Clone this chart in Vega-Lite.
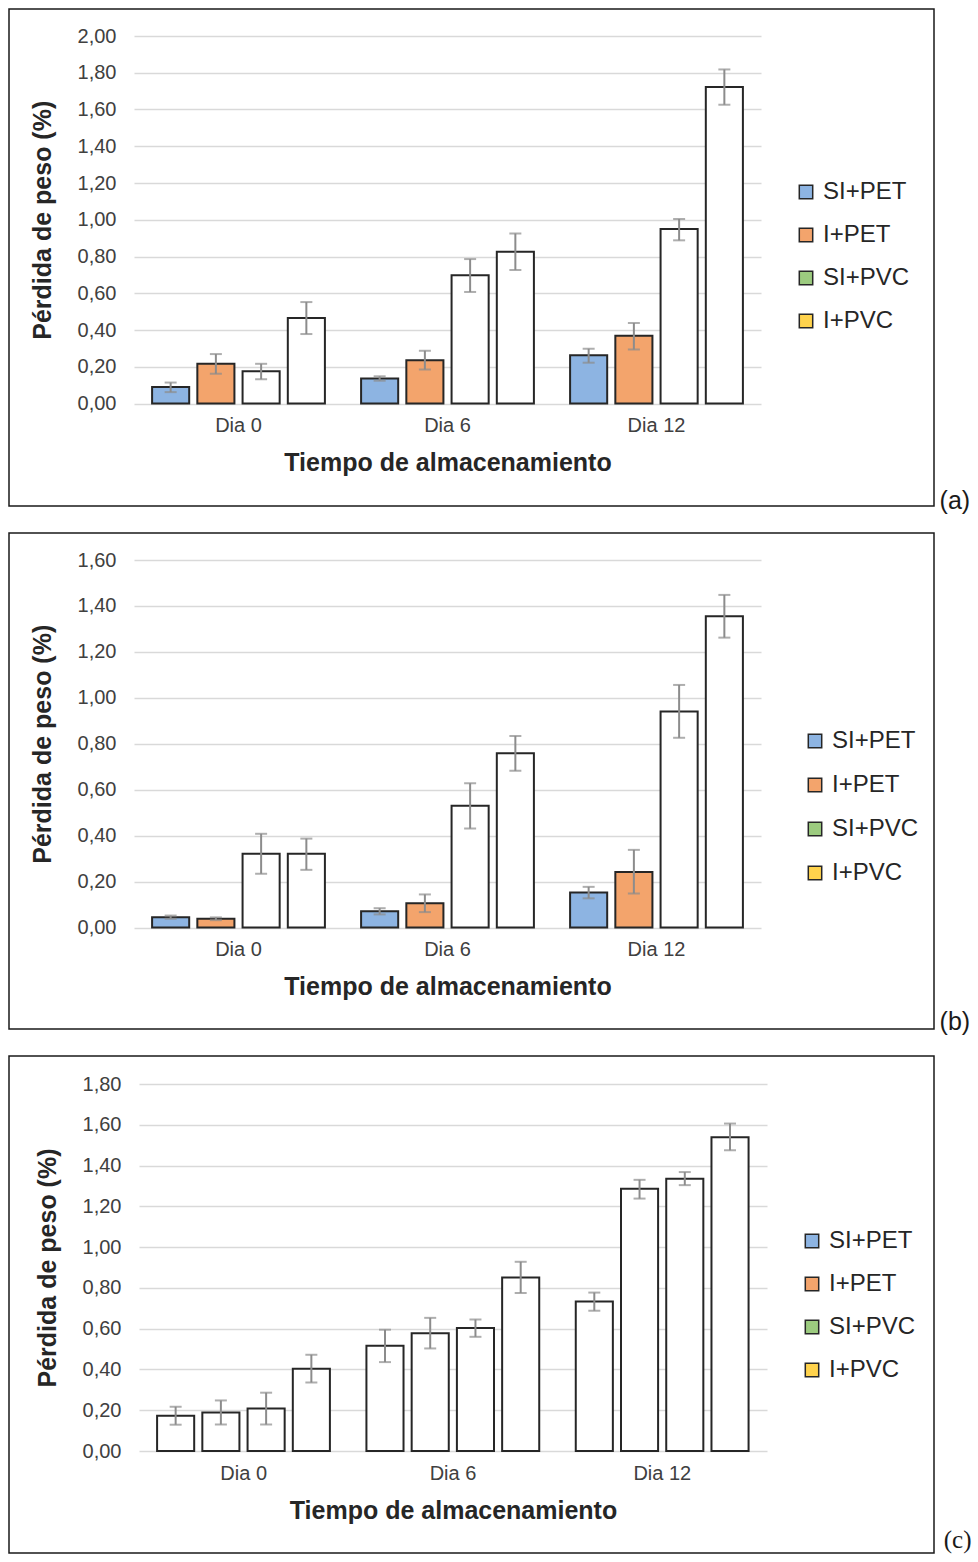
{
  "$schema": "https://vega.github.io/schema/vega-lite/v6.json",
  "background": "white",
  "padding": {"left": 8, "top": 8, "right": 0, "bottom": 0},
  "bounds": "flush",
  "spacing": 27,
  "resolve": {"scale": {"fill": "independent", "x": "independent", "y": "independent"}, "legend": {"fill": "independent"}},
  "config": {
    "font": "Liberation Sans",
    "view": {"stroke": "#1a1a1a", "strokeWidth": 1.5},
    "axis": {"labelFont": "Liberation Sans", "titleFont": "Liberation Sans", "labelColor": "#404040", "titleColor": "#262626", "labelFontSize": 20, "titleFontSize": 25, "titleFontWeight": "bold"},
    "legend": {"labelFont": "Liberation Sans", "labelFontSize": 24, "labelColor": "#262626"}
  },
  "datasets": {
    "a": [
      {"dia": "Dia 0", "grupo": "SI+PET", "valor": 0.09, "inf": 0.062, "sup": 0.114},
      {"dia": "Dia 0", "grupo": "I+PET", "valor": 0.216, "inf": 0.162, "sup": 0.269},
      {"dia": "Dia 0", "grupo": "SI+PVC", "valor": 0.176, "inf": 0.132, "sup": 0.216},
      {"dia": "Dia 0", "grupo": "I+PVC", "valor": 0.465, "inf": 0.378, "sup": 0.552},
      {"dia": "Dia 6", "grupo": "SI+PET", "valor": 0.136, "inf": 0.124, "sup": 0.148},
      {"dia": "Dia 6", "grupo": "I+PET", "valor": 0.236, "inf": 0.185, "sup": 0.287},
      {"dia": "Dia 6", "grupo": "SI+PVC", "valor": 0.698, "inf": 0.607, "sup": 0.786},
      {"dia": "Dia 6", "grupo": "I+PVC", "valor": 0.826, "inf": 0.727, "sup": 0.925},
      {"dia": "Dia 12", "grupo": "SI+PET", "valor": 0.262, "inf": 0.222, "sup": 0.298},
      {"dia": "Dia 12", "grupo": "I+PET", "valor": 0.369, "inf": 0.294, "sup": 0.438},
      {"dia": "Dia 12", "grupo": "SI+PVC", "valor": 0.95, "inf": 0.888, "sup": 1.004},
      {"dia": "Dia 12", "grupo": "I+PVC", "valor": 1.722, "inf": 1.626, "sup": 1.818}
    ],
    "b": [
      {"dia": "Dia 0", "grupo": "SI+PET", "valor": 0.045, "inf": 0.038, "sup": 0.052},
      {"dia": "Dia 0", "grupo": "I+PET", "valor": 0.038, "inf": 0.032, "sup": 0.044},
      {"dia": "Dia 0", "grupo": "SI+PVC", "valor": 0.321, "inf": 0.234, "sup": 0.408},
      {"dia": "Dia 0", "grupo": "I+PVC", "valor": 0.321, "inf": 0.251, "sup": 0.387},
      {"dia": "Dia 6", "grupo": "SI+PET", "valor": 0.071, "inf": 0.057, "sup": 0.084},
      {"dia": "Dia 6", "grupo": "I+PET", "valor": 0.106, "inf": 0.067, "sup": 0.144},
      {"dia": "Dia 6", "grupo": "SI+PVC", "valor": 0.53, "inf": 0.431, "sup": 0.628},
      {"dia": "Dia 6", "grupo": "I+PVC", "valor": 0.759, "inf": 0.682, "sup": 0.834},
      {"dia": "Dia 12", "grupo": "SI+PET", "valor": 0.152, "inf": 0.127, "sup": 0.177},
      {"dia": "Dia 12", "grupo": "I+PET", "valor": 0.242, "inf": 0.148, "sup": 0.338},
      {"dia": "Dia 12", "grupo": "SI+PVC", "valor": 0.94, "inf": 0.826, "sup": 1.056},
      {"dia": "Dia 12", "grupo": "I+PVC", "valor": 1.355, "inf": 1.262, "sup": 1.448}
    ],
    "c": [
      {"dia": "Dia 0", "grupo": "SI+PET", "valor": 0.173, "inf": 0.129, "sup": 0.217},
      {"dia": "Dia 0", "grupo": "I+PET", "valor": 0.189, "inf": 0.13, "sup": 0.248},
      {"dia": "Dia 0", "grupo": "SI+PVC", "valor": 0.209, "inf": 0.13, "sup": 0.286},
      {"dia": "Dia 0", "grupo": "I+PVC", "valor": 0.403, "inf": 0.336, "sup": 0.472},
      {"dia": "Dia 6", "grupo": "SI+PET", "valor": 0.516, "inf": 0.436, "sup": 0.595},
      {"dia": "Dia 6", "grupo": "I+PET", "valor": 0.577, "inf": 0.503, "sup": 0.653},
      {"dia": "Dia 6", "grupo": "SI+PVC", "valor": 0.603, "inf": 0.56, "sup": 0.645},
      {"dia": "Dia 6", "grupo": "I+PVC", "valor": 0.851, "inf": 0.775, "sup": 0.928},
      {"dia": "Dia 12", "grupo": "SI+PET", "valor": 0.733, "inf": 0.688, "sup": 0.777},
      {"dia": "Dia 12", "grupo": "I+PET", "valor": 1.286, "inf": 1.238, "sup": 1.33},
      {"dia": "Dia 12", "grupo": "SI+PVC", "valor": 1.335, "inf": 1.304, "sup": 1.368},
      {"dia": "Dia 12", "grupo": "I+PVC", "valor": 1.539, "inf": 1.475, "sup": 1.606}
    ]
  },
  "vconcat": [
    {
      "width": 925, "height": 497,
      "data": {"name": "a"},
      "title": {"text": "(a)", "orient": "right", "anchor": "end", "angle": 0, "frame": "group", "align": "left", "baseline": "bottom", "fontSize": 25, "fontWeight": "normal", "font": "Liberation Sans", "color": "#1a1a1a", "offset": 7, "dx": -32, "dy": 8},
      "encoding": {
        "x": {"field": "dia", "type": "nominal", "sort": ["Dia 0", "Dia 6", "Dia 12"], "scale": {"range": [125, 752], "paddingInner": 0, "paddingOuter": 0},
              "axis": {"title": "Tiempo de almacenamiento", "orient": "bottom", "offset": -102.5, "labelAngle": 0, "domain": false, "ticks": false, "grid": false, "labelPadding": 12, "titlePadding": 15}},
        "xOffset": {"field": "grupo", "type": "nominal", "sort": ["SI+PET", "I+PET", "SI+PVC", "I+PVC"], "scale": {"paddingInner": 0.18, "paddingOuter": 0.4}}
      },
      "layer": [
        {
          "mark": {"type": "bar", "stroke": "#262626", "strokeWidth": 2},
          "encoding": {
            "y": {"field": "valor", "type": "quantitative", "title": "Pérdida de peso (%)", "scale": {"domain": [0, 2], "range": [394.5, 27], "nice": false},
                  "axis": {"values": [0, 0.2, 0.4, 0.6, 0.8, 1, 1.2, 1.4, 1.6, 1.8, 2], "labelExpr": "replace(format(datum.value, '.2f'), '.', ',')", "offset": -125, "domain": false, "ticks": false, "grid": true, "gridColor": "#d9d9d9", "gridWidth": 1.5, "labelPadding": 18, "titlePadding": 22}},
            "fill": {"field": "grupo", "type": "nominal", "sort": ["SI+PET", "I+PET", "SI+PVC", "I+PVC"],
                     "condition": {"test": "datum.grupo == 'SI+PVC' || datum.grupo == 'I+PVC'", "value": "white"},
                     "scale": {"domain": ["SI+PET", "I+PET", "SI+PVC", "I+PVC"], "range": ["#8db4e2", "#f3a46c", "#9ccb7f", "#ffd34d"]},
                     "legend": {"title": null, "orient": "none", "legendX": 785, "legendY": 171, "padding": 0, "symbolType": "square", "symbolSize": 180, "symbolStrokeColor": "#262626", "symbolStrokeWidth": 1.5, "rowPadding": 19, "labelOffset": 5}}
          }
        },
        {
          "mark": {"type": "rule", "color": "#8c8c8c", "strokeWidth": 2},
          "encoding": {"y": {"field": "inf", "type": "quantitative", "title": "Pérdida de peso (%)"}, "y2": {"field": "sup"}}
        },
        {
          "mark": {"type": "tick", "color": "#8c8c8c", "thickness": 2, "size": 12, "orient": "horizontal"},
          "encoding": {"y": {"field": "inf", "type": "quantitative", "title": "Pérdida de peso (%)"}}
        },
        {
          "mark": {"type": "tick", "color": "#8c8c8c", "thickness": 2, "size": 12, "orient": "horizontal"},
          "encoding": {"y": {"field": "sup", "type": "quantitative", "title": "Pérdida de peso (%)"}}
        }
      ]
    },
    {
      "width": 925, "height": 496,
      "data": {"name": "b"},
      "title": {"text": "(b)", "orient": "right", "anchor": "end", "angle": 0, "frame": "group", "align": "left", "baseline": "bottom", "fontSize": 25, "fontWeight": "normal", "font": "Liberation Sans", "color": "#1a1a1a", "offset": 7, "dx": -32, "dy": 6},
      "encoding": {
        "x": {"field": "dia", "type": "nominal", "sort": ["Dia 0", "Dia 6", "Dia 12"], "scale": {"range": [125, 752], "paddingInner": 0, "paddingOuter": 0},
              "axis": {"title": "Tiempo de almacenamiento", "orient": "bottom", "offset": -101.5, "labelAngle": 0, "domain": false, "ticks": false, "grid": false, "labelPadding": 12, "titlePadding": 15}},
        "xOffset": {"field": "grupo", "type": "nominal", "sort": ["SI+PET", "I+PET", "SI+PVC", "I+PVC"], "scale": {"paddingInner": 0.18, "paddingOuter": 0.4}}
      },
      "layer": [
        {
          "mark": {"type": "bar", "stroke": "#262626", "strokeWidth": 2},
          "encoding": {
            "y": {"field": "valor", "type": "quantitative", "title": "Pérdida de peso (%)", "scale": {"domain": [0, 1.6], "range": [394.5, 27], "nice": false},
                  "axis": {"values": [0, 0.2, 0.4, 0.6, 0.8, 1, 1.2, 1.4, 1.6], "labelExpr": "replace(format(datum.value, '.2f'), '.', ',')", "offset": -125, "domain": false, "ticks": false, "grid": true, "gridColor": "#d9d9d9", "gridWidth": 1.5, "labelPadding": 18, "titlePadding": 22}},
            "fill": {"field": "grupo", "type": "nominal", "sort": ["SI+PET", "I+PET", "SI+PVC", "I+PVC"],
                     "condition": {"test": "datum.grupo == 'SI+PVC' || datum.grupo == 'I+PVC'", "value": "white"},
                     "scale": {"domain": ["SI+PET", "I+PET", "SI+PVC", "I+PVC"], "range": ["#8db4e2", "#f3a46c", "#9ccb7f", "#ffd34d"]},
                     "legend": {"title": null, "orient": "none", "legendX": 794, "legendY": 196, "padding": 0, "symbolType": "square", "symbolSize": 180, "symbolStrokeColor": "#262626", "symbolStrokeWidth": 1.5, "rowPadding": 20, "labelOffset": 5}}
          }
        },
        {
          "mark": {"type": "rule", "color": "#8c8c8c", "strokeWidth": 2},
          "encoding": {"y": {"field": "inf", "type": "quantitative", "title": "Pérdida de peso (%)"}, "y2": {"field": "sup"}}
        },
        {
          "mark": {"type": "tick", "color": "#8c8c8c", "thickness": 2, "size": 12, "orient": "horizontal"},
          "encoding": {"y": {"field": "inf", "type": "quantitative", "title": "Pérdida de peso (%)"}}
        },
        {
          "mark": {"type": "tick", "color": "#8c8c8c", "thickness": 2, "size": 12, "orient": "horizontal"},
          "encoding": {"y": {"field": "sup", "type": "quantitative", "title": "Pérdida de peso (%)"}}
        }
      ]
    },
    {
      "width": 925, "height": 497,
      "data": {"name": "c"},
      "title": {"text": "(c)", "orient": "right", "anchor": "end", "angle": 0, "frame": "group", "align": "left", "baseline": "bottom", "fontSize": 25, "fontWeight": "normal", "font": "Liberation Serif", "color": "#1a1a1a", "offset": 7, "dx": -25, "dy": 0},
      "encoding": {
        "x": {"field": "dia", "type": "nominal", "sort": ["Dia 0", "Dia 6", "Dia 12"], "scale": {"range": [130, 758], "paddingInner": 0, "paddingOuter": 0},
              "axis": {"title": "Tiempo de almacenamiento", "orient": "bottom", "offset": -102, "labelAngle": 0, "domain": false, "ticks": false, "grid": false, "labelPadding": 12, "titlePadding": 15}},
        "xOffset": {"field": "grupo", "type": "nominal", "sort": ["SI+PET", "I+PET", "SI+PVC", "I+PVC"], "scale": {"paddingInner": 0.18, "paddingOuter": 0.4}}
      },
      "layer": [
        {
          "mark": {"type": "bar", "stroke": "#262626", "strokeWidth": 2},
          "encoding": {
            "y": {"field": "valor", "type": "quantitative", "title": "Pérdida de peso (%)", "scale": {"domain": [0, 1.8], "range": [395, 28], "nice": false},
                  "axis": {"values": [0, 0.2, 0.4, 0.6, 0.8, 1, 1.2, 1.4, 1.6, 1.8], "labelExpr": "replace(format(datum.value, '.2f'), '.', ',')", "offset": -130, "domain": false, "ticks": false, "grid": true, "gridColor": "#d9d9d9", "gridWidth": 1.5, "labelPadding": 18, "titlePadding": 22}},
            "fill": {"field": "grupo", "type": "nominal", "sort": ["SI+PET", "I+PET", "SI+PVC", "I+PVC"],
                     "condition": {"test": "true", "value": "white"},
                     "scale": {"domain": ["SI+PET", "I+PET", "SI+PVC", "I+PVC"], "range": ["#8db4e2", "#f3a46c", "#9ccb7f", "#ffd34d"]},
                     "legend": {"title": null, "orient": "none", "legendX": 791, "legendY": 173, "padding": 0, "symbolType": "square", "symbolSize": 180, "symbolStrokeColor": "#262626", "symbolStrokeWidth": 1.5, "rowPadding": 19, "labelOffset": 5}}
          }
        },
        {
          "mark": {"type": "rule", "color": "#8c8c8c", "strokeWidth": 2},
          "encoding": {"y": {"field": "inf", "type": "quantitative", "title": "Pérdida de peso (%)"}, "y2": {"field": "sup"}}
        },
        {
          "mark": {"type": "tick", "color": "#8c8c8c", "thickness": 2, "size": 12, "orient": "horizontal"},
          "encoding": {"y": {"field": "inf", "type": "quantitative", "title": "Pérdida de peso (%)"}}
        },
        {
          "mark": {"type": "tick", "color": "#8c8c8c", "thickness": 2, "size": 12, "orient": "horizontal"},
          "encoding": {"y": {"field": "sup", "type": "quantitative", "title": "Pérdida de peso (%)"}}
        }
      ]
    }
  ]
}
